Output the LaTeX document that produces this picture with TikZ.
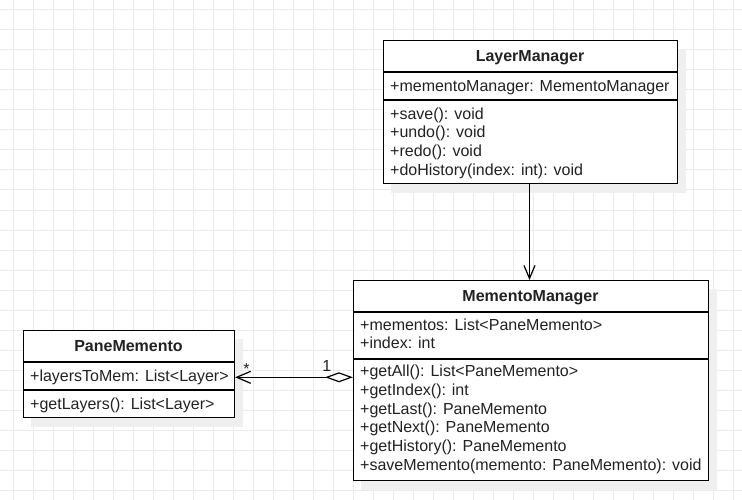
\documentclass[tikz,border=0pt]{standalone}
\usepackage{fontspec}
\setmainfont{Liberation Sans}
\usetikzlibrary{arrows.meta,backgrounds,calc}
\definecolor{gridc}{HTML}{EBEBEB}
\definecolor{shadc}{HTML}{EFEFEF}
\definecolor{txtc}{HTML}{222222}
\begin{document}
\begin{tikzpicture}[x=1pt,y=-1pt,
  box/.style={draw=black,line width=1.2pt,fill=white,anchor=north west,inner sep=0pt},
  sep/.style={draw=black,line width=1.2pt},
  title/.style={anchor=base,inner sep=0pt,font=\fontsize{16}{18}\selectfont\bfseries,text=txtc},
  item/.style={anchor=base west,inner sep=0pt,font=\fontsize{16}{18}\selectfont,text=txtc},
  conn/.style={draw=black,line width=1.2pt},
  mult/.style={anchor=base,inner sep=0pt,font=\fontsize{16}{18}\selectfont,text=txtc}]
\useasboundingbox (0,0) rectangle (742,500);
% boxes
\node[box,minimum width=294pt,minimum height=143pt] (lm) at (383,40) {};
\node[box,minimum width=355pt,minimum height=200pt] (mm) at (353,280) {};
\node[box,minimum width=211pt,minimum height=87pt] (pm) at (23,330) {};
\begin{scope}[on background layer]
  \fill[white] (0,0) rectangle (742,500);
  \foreach \gx in {13,33,...,733} \draw[gridc,line width=1pt] (\gx,0) -- (\gx,500);
  \foreach \gy in {10,30,...,490} \draw[gridc,line width=1pt] (0,\gy) -- (742,\gy);
  \fill[shadc] ($(lm.north west)+(8,9)$) rectangle ($(lm.south east)+(8,9)$);
  \fill[shadc] ($(mm.north west)+(8,9)$) rectangle ($(mm.south east)+(8,9)$);
  \fill[shadc] ($(pm.north west)+(8,9)$) rectangle ($(pm.south east)+(8,9)$);
\end{scope}
% LayerManager
\draw[sep] (lm.west |- 0,72) -- (lm.east |- 0,72);
\draw[sep] (lm.west |- 0,100) -- (lm.east |- 0,100);
\node[title] (lmt) at (530,61.7) {LayerManager};
\node[item] (lma1) at (390,91.5) {+mementoManager: MementoManager};
\node[item] (lmm1) at (390,119.3) {+save(): void};
\node[item] (lmm2) at (390,138) {+undo(): void};
\node[item] (lmm3) at (390,156.7) {+redo(): void};
\node[item] (lmm4) at (390,175.3) {+doHistory(index: int): void};
% MementoManager
\draw[sep] (mm.west |- 0,312) -- (mm.east |- 0,312);
\draw[sep] (mm.west |- 0,359) -- (mm.east |- 0,359);
\node[title] (mmt) at (530.5,301.7) {MementoManager};
\node[item] (mma1) at (360,330) {+mementos: List<PaneMemento>};
\node[item] (mma2) at (360,348.7) {+index: int};
\node[item] (mmm1) at (360,376.7) {+getAll(): List<PaneMemento>};
\node[item] (mmm2) at (360,395.3) {+getIndex(): int};
\node[item] (mmm3) at (360,414) {+getLast(): PaneMemento};
\node[item] (mmm4) at (360,432.7) {+getNext(): PaneMemento};
\node[item] (mmm5) at (360,451.3) {+getHistory(): PaneMemento};
\node[item] (mmm6) at (360,470) {+saveMemento(memento: PaneMemento): void};
% PaneMemento
\draw[sep] (pm.west |- 0,362) -- (pm.east |- 0,362);
\draw[sep] (pm.west |- 0,390) -- (pm.east |- 0,390);
\node[title] (pmt) at (128.5,351.7) {PaneMemento};
\node[item] (pma1) at (30,381) {+layersToMem: List<Layer>};
\node[item] (pmm1) at (30,409) {+getLayers(): List<Layer>};
% connectors
\draw[conn,-{Straight Barb[length=13pt,width=11pt,line width=1.2pt]}] (lm.south -| 529.5,0) -- (mm.north -| 529.5,0);
\draw[conn,{Diamond[open,length=28pt,width=10pt,line width=1.2pt]}-{Straight Barb[length=14pt,width=12pt,line width=1.2pt]}] (mm.west |- 0,377.3) -- (pm.east |- 0,377.3);
\node[mult] (mstar) at (246.5,374) {*};
\node[mult] (mone) at (326.7,371) {1};
\end{tikzpicture}
\end{document}
